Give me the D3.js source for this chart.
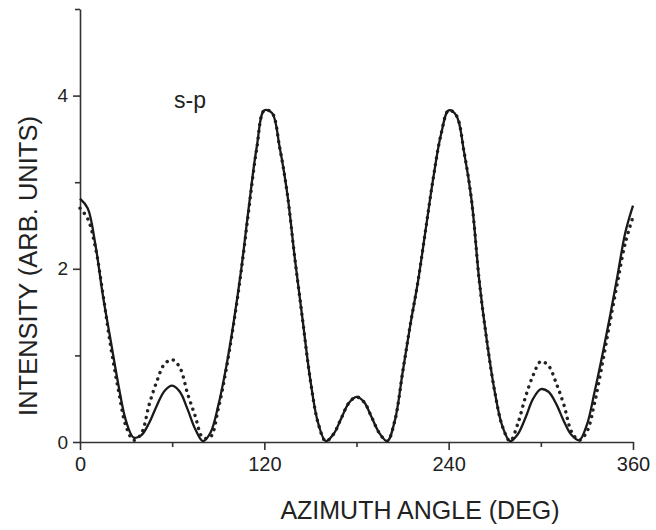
<!DOCTYPE html>
<html>
<head>
<meta charset="utf-8">
<script src="https://cdn.jsdelivr.net/npm/d3@7"></script>
<style>
  body { margin: 0; background: #fff; }
  svg text { font-family: "Liberation Sans", Arial, Helvetica, sans-serif; fill: #222; }
  .axis path, .axis line { stroke: #333; stroke-width: 1.6; }
</style>
</head>
<body>
<div id="chart"></div>
<script>

// azimuth angle (deg)
var angles = [0, 5, 10, 15, 20, 25, 30, 35, 40, 45, 50, 55, 60, 65, 70, 75, 80, 85, 90,
  95, 100, 105, 110, 115, 120, 125, 130, 135, 140, 145, 150, 155, 160, 165, 170, 175, 180,
  185, 190, 195, 200, 205, 210, 215, 220, 225, 230, 235, 240, 245, 250, 255, 260, 265, 270,
  275, 280, 285, 290, 295, 300, 305, 310, 315, 320, 325, 330, 335, 340, 345, 350, 355, 360];

// solid curve
var solidValues = [2.81, 2.70, 2.28, 1.68, 1.17, 0.66, 0.24, 0.05, 0.08, 0.22, 0.42, 0.59, 0.65, 0.58, 0.38, 0.15, 0.01, 0.11, 0.42,
  0.85, 1.38, 2.0, 2.73, 3.40, 3.83, 3.80, 3.40, 2.86, 2.10, 1.40, 0.71, 0.22, 0.01, 0.09, 0.27, 0.45, 0.52,
  0.46, 0.28, 0.10, 0.01, 0.25, 0.80, 1.35, 1.85, 2.45, 3.05, 3.55, 3.83, 3.77, 3.35, 2.78, 1.85, 1.15, 0.58,
  0.18, 0.01, 0.09, 0.28, 0.50, 0.61, 0.58, 0.44, 0.24, 0.08, 0.02, 0.20, 0.58, 1.0, 1.45, 1.93, 2.42, 2.73];

// dotted curve
var dottedValues = [2.70, 2.58, 2.25, 1.70, 1.10, 0.60, 0.18, 0.02, 0.10, 0.43, 0.70, 0.90, 0.95, 0.86, 0.56, 0.30, 0.05, 0.06, 0.38,
  0.82, 1.36, 1.98, 2.70, 3.38, 3.83, 3.80, 3.40, 2.86, 2.10, 1.40, 0.71, 0.22, 0.01, 0.09, 0.27, 0.45, 0.52,
  0.46, 0.28, 0.10, 0.01, 0.25, 0.80, 1.35, 1.85, 2.45, 3.05, 3.55, 3.83, 3.77, 3.35, 2.78, 1.85, 1.15, 0.58,
  0.18, 0.01, 0.21, 0.52, 0.77, 0.93, 0.88, 0.68, 0.43, 0.12, 0.02, 0.12, 0.45, 0.90, 1.38, 1.85, 2.30, 2.60];

var xTicks = [0, 120, 240, 360],
    xMinor = [60, 180, 300],
    yTicks = [0, 2, 4],
    yMinor = [1, 3, 5];

var margin = {top: 9, right: 23, bottom: 88, left: 80},
    width = 656 - margin.left - margin.right,
    height = 530 - margin.top - margin.bottom;

var svg = d3.select("#chart")
    .append("svg")
    .attr("width", 656)
    .attr("height", 530)
  .append("g")
    .attr("transform", "translate(" + margin.left + "," + margin.top + ")");

var x = d3.scaleLinear()
    .domain([0, 360])
    .range([0, width]);

var y = d3.scaleLinear()
    .domain([0, 5])
    .range([height, 0]);

// minor ticks first, then the labelled axes on top
svg.append("g")
    .attr("class", "axis")
    .attr("transform", "translate(0," + height + ")")
    .call(d3.axisBottom(x).tickValues(xMinor).tickSize(5).tickFormat(""))
    .select(".domain").remove();

svg.append("g")
    .attr("class", "axis")
    .call(d3.axisLeft(y).tickValues(yMinor).tickSize(5).tickFormat(""))
    .select(".domain").remove();

var xAxis = svg.append("g")
    .attr("class", "axis")
    .attr("transform", "translate(0," + height + ")")
    .call(d3.axisBottom(x).tickValues(xTicks).tickFormat(d3.format("d"))
      .tickSize(8).tickSizeOuter(0).tickPadding(7));

xAxis.selectAll("text").style("font-size", "20px");

var yAxis = svg.append("g")
    .attr("class", "axis")
    .call(d3.axisLeft(y).tickValues(yTicks).tickFormat(d3.format("d"))
      .tickSize(7).tickSizeOuter(0).tickPadding(5));

yAxis.selectAll("text").style("font-size", "19px");

// curves
var pts = function(vals) {
  return angles.map(function(a, i) { return {a: a, v: vals[i]}; });
};

var line = d3.line()
    .x(function(d) { return x(d.a); })
    .y(function(d) { return y(d.v); })
    .curve(d3.curveCatmullRom.alpha(0.5));

svg.append("path")
    .datum(pts(dottedValues))
    .attr("fill", "none")
    .attr("stroke", "#222")
    .attr("stroke-width", 3.4)
    .attr("stroke-linecap", "round")
    .attr("stroke-dasharray", "0.1 6.6")
    .attr("d", line);

svg.append("path")
    .datum(pts(solidValues))
    .attr("fill", "none")
    .attr("stroke", "#1a1a1a")
    .attr("stroke-width", 2.3)
    .attr("d", line);

// labels
svg.append("text")
    .attr("x", 110)
    .attr("y", 99)
    .attr("text-anchor", "middle")
    .style("font-size", "23px")
    .text("s-p");

svg.append("text")
    .attr("x", 340)
    .attr("y", 510)
    .attr("text-anchor", "middle")
    .style("font-size", "25px")
    .text("AZIMUTH ANGLE (DEG)");

svg.append("text")
    .attr("transform", "translate(-43,257) rotate(-90)")
    .attr("text-anchor", "middle")
    .style("font-size", "25.5px")
    .text("INTENSITY (ARB. UNITS)");

</script>
</body>
</html>
